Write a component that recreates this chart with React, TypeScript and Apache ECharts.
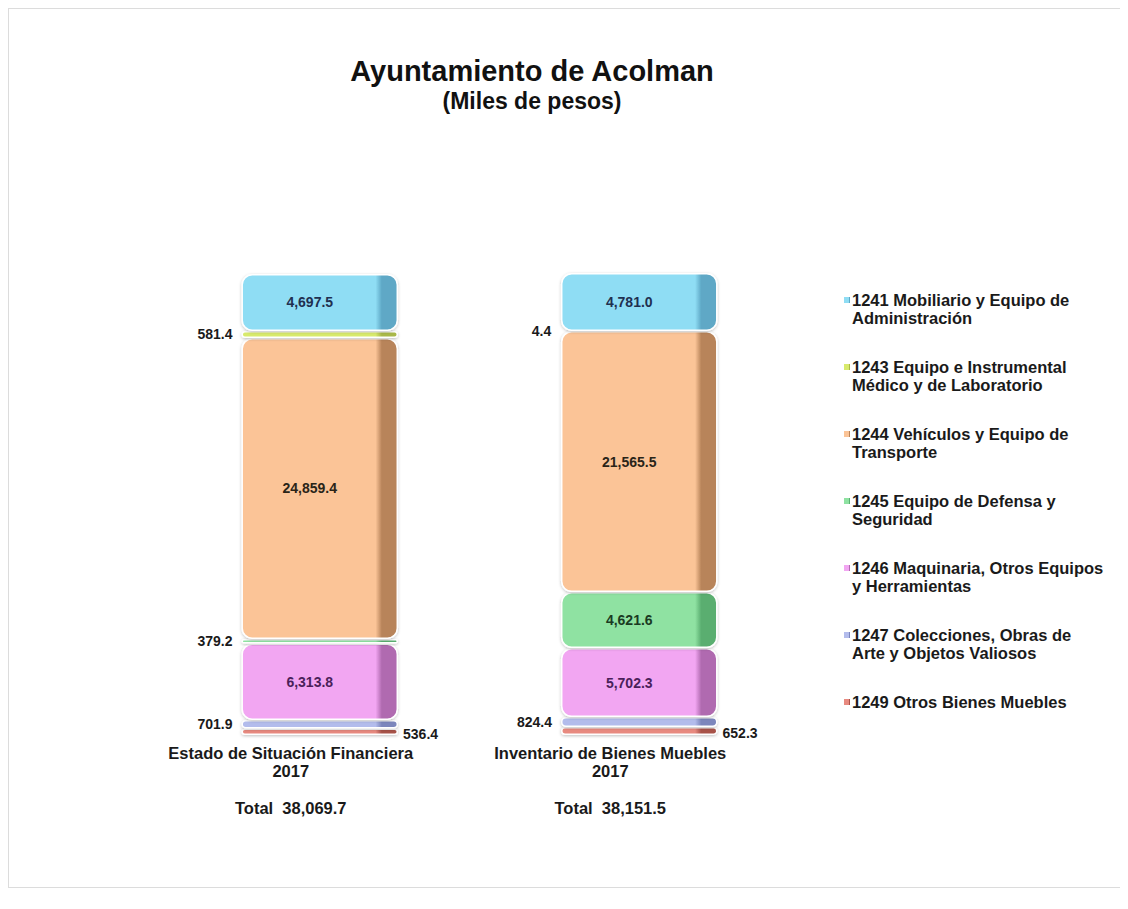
import React, { useEffect, useRef } from "react";
import * as echarts from "echarts";

const categories = ["Estado de Situación Financiera\n2017", "Inventario de Bienes Muebles\n2017"];
const totals = ["38,069.7", "38,151.5"];

// legend order (top of stack first)
const legendNames = [
  "1241 Mobiliario y Equipo de\nAdministración",
  "1243 Equipo e Instrumental\nMédico y de Laboratorio",
  "1244 Vehículos y Equipo de\nTransporte",
  "1245 Equipo de Defensa y\nSeguridad",
  "1246 Maquinaria, Otros Equipos\ny Herramientas",
  "1247 Colecciones, Obras de\nArte y Objetos Valiosos",
  "1249 Otros Bienes Muebles\n ",
];

const v1241 = [4697.5, 4781.0];
const v1243 = [581.4, 4.4];
const v1244 = [24859.4, 21565.5];
const v1245 = [379.2, 4621.6];
const v1246 = [6313.8, 5702.3];
const v1247 = [701.9, 824.4];
const v1249 = [536.4, 652.3];

// stack from bottom to top
const stackSeries = [
  { name: legendNames[6], values: v1249, face: "#E88A80", side: "#A8524A", text: "#3a1a1a", small: "right" },
  { name: legendNames[5], values: v1247, face: "#B3BCEC", side: "#7C86BC", text: "#1a1a3a", small: "left" },
  { name: legendNames[4], values: v1246, face: "#F2A6F2", side: "#B06AB0", text: "#4a1f5a", small: "left" },
  { name: legendNames[3], values: v1245, face: "#8FE2A2", side: "#5AAE70", text: "#1a3a22", small: "left" },
  { name: legendNames[2], values: v1244, face: "#FBC497", side: "#B8845A", text: "#2a2418", small: "left" },
  { name: legendNames[1], values: v1243, face: "#D8EA6C", side: "#A9B84A", text: "#2a2a1a", small: "left" },
  { name: legendNames[0], values: v1241, face: "#8FDDF4", side: "#5EA8C6", text: "#1f3050", small: "left" },
];

const fmt = (v: number) =>
  v.toLocaleString("en-US", { minimumFractionDigits: 1, maximumFractionDigits: 1 });

const FONT = "'Liberation Sans', Arial, sans-serif";

export default function App() {
  const ref = useRef<HTMLDivElement>(null);
  useEffect(() => {
    if (!ref.current) return;
    const chart = echarts.init(ref.current, null, { renderer: "svg" });
    const series = stackSeries.map((s) => ({
      type: "bar",
      name: s.name,
      stack: "total",
      barWidth: "49%",
      itemStyle: {
        color: new echarts.graphic.LinearGradient(0, 0, 1, 0, [
          { offset: 0, color: s.face },
          { offset: 0.86, color: s.face },
          { offset: 0.9, color: s.side },
          { offset: 1, color: s.side },
        ]),
        borderColor: "#ffffff",
        borderWidth: 1.5,
        borderRadius: 10,
        shadowBlur: 3,
        shadowColor: "rgba(0,0,0,0.25)",
        shadowOffsetY: 1,
      },
      label: {
        show: true,
        position: "inside",
        offset: [-10, 0],
        color: s.text,
        fontFamily: FONT,
        fontWeight: "bold",
        fontSize: 14,
        formatter: (p: any) => fmt(p.value),
      },
      data: s.values.map((v) =>
        v < 1000
          ? {
              value: v,
              label: {
                position: s.small,
                distance: s.small === "right" ? 5 : 9,
                offset: s.small === "right" ? [0, 2] : [0, 0],
                color: "#1a1a1a",
              },
            }
          : { value: v }
      ),
    }));

    chart.setOption({
      animation: false,
      backgroundColor: "#ffffff",
      title: {
        text: "Ayuntamiento de Acolman",
        subtext: "(Miles de pesos)",
        left: 518,
        top: 42,
        textAlign: "center",
        itemGap: 4,
        textStyle: { fontFamily: FONT, fontWeight: "bold", fontSize: 29, color: "#111" },
        subtextStyle: { fontFamily: FONT, fontWeight: "bold", fontSize: 23, color: "#111" },
      },
      legend: {
        orient: "vertical",
        left: 830,
        top: 277,
        itemGap: 31,
        itemWidth: 6,
        itemHeight: 36,
        icon: "path://M0,0L0.01,0M0,6h6v6h-6zM0,36L0.01,36",
        itemStyle: { borderWidth: 0 },
        data: legendNames,
        textStyle: {
          fontFamily: FONT,
          fontWeight: "bold",
          fontSize: 16.5,
          lineHeight: 18,
          color: "#1a1a1a",
          padding: [0, 0, 0, -3],
        },
      },
      grid: { left: 151, top: 264, width: 639, height: 462 },
      xAxis: {
        type: "category",
        data: categories,
        axisLine: { show: false },
        axisTick: { show: false },
        axisLabel: {
          interval: 0,
          margin: 9,
          padding: [0, 58, 0, 0],
          fontFamily: FONT,
          fontWeight: "bold",
          fontSize: 16.5,
          lineHeight: 18,
          formatter: (val: string, i: number) =>
            val
              .split("\n")
              .map((l) => `{n|${l}}`)
              .join("\n") + `\n\n{t|Total  ${totals[i]}}`,
          rich: {
            n: { fontFamily: FONT, fontWeight: "bold", fontSize: 16.5, lineHeight: 18, color: "#1a1a1a" },
            t: { fontFamily: FONT, fontWeight: "bold", fontSize: 16.5, lineHeight: 20, color: "#1a1a1a" },
          },
        },
      },
      yAxis: {
        type: "value",
        show: false,
        min: 0,
        max: "dataMax",
        splitLine: { show: false },
      },
      series,
    });
    return () => chart.dispose();
  }, []);
  return (
    <div
      ref={ref}
      style={{
        width: 1120,
        height: 880,
        border: "1px solid #dcdcdc",
        boxSizing: "border-box",
      }}
    />
  );
}
